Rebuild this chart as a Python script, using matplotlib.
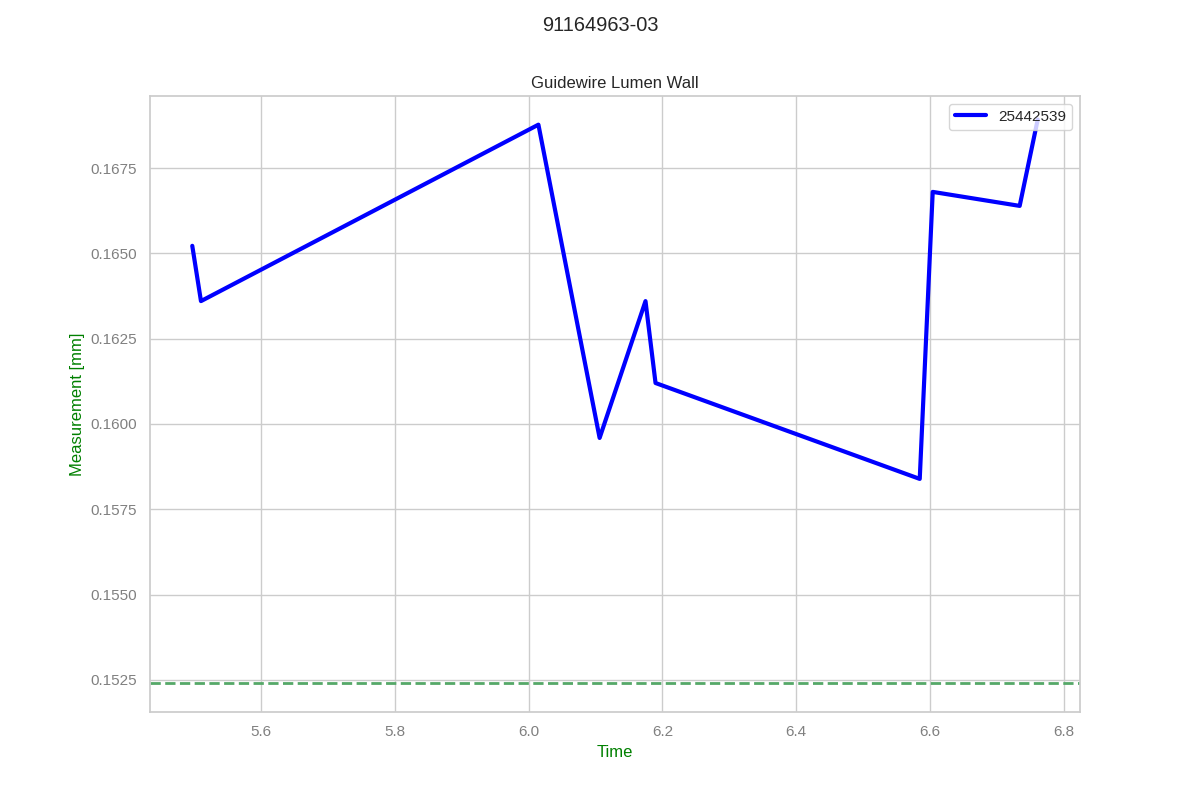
import matplotlib
matplotlib.use("Agg")
import matplotlib.pyplot as plt
import seaborn as sns

time = [5.497, 5.510, 6.0145, 6.106, 6.1746, 6.1896, 6.5846, 6.604, 6.734, 6.761]
meas = [0.16522, 0.16360, 0.16877, 0.15959, 0.16360, 0.16120, 0.15839, 0.16680, 0.16639, 0.16892]
serial = "25442539"
lsl = 0.1524
y_lim = (0.15156, 0.16961)

sns.set_theme(style="whitegrid")
plt.rcParams["font.family"] = ["Liberation Sans", "DejaVu Sans"]

fig, ax = plt.subplots(figsize=(12, 8), dpi=100)
fig.suptitle("91164963-03")
ax.set_title("Guidewire Lumen Wall")
ax.plot(time, meas, color="blue", linewidth=3, label=serial)
ax.axhline(lsl, color="g", linestyle="--", linewidth=2)
ax.set_ylim(y_lim)
ax.set_xlabel("Time", color="green")
ax.set_ylabel("Measurement [mm]", color="green")
ax.tick_params(labelcolor="gray")
ax.legend(loc="upper right")

fig.savefig("out.png")
